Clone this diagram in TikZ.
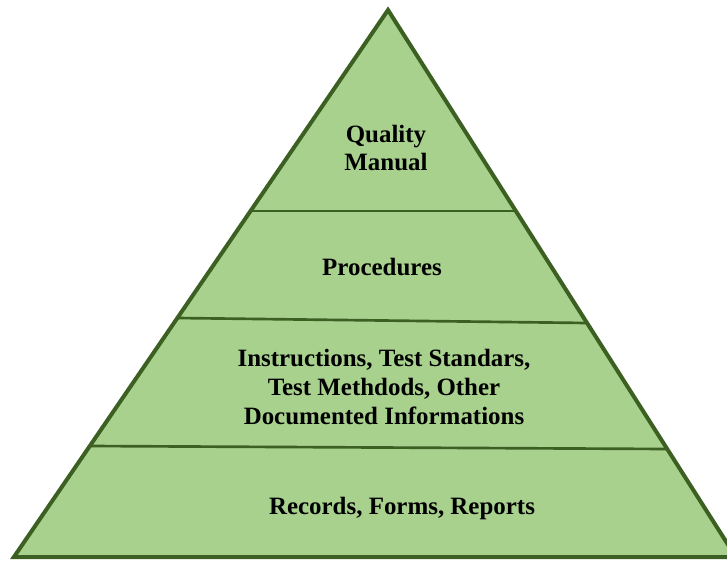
\documentclass[tikz,border=0pt]{standalone}
\usepackage{fontspec}
\setmainfont{Liberation Serif}
\definecolor{layerfill}{HTML}{A9D18E}
\definecolor{layerline}{HTML}{3C5F22}
\begin{document}
\begin{tikzpicture}[x=0.75pt,y=-0.75pt,
  outline/.style={draw=layerline,line width=3pt,line join=miter},
  divider/.style={draw=layerline,line width=2pt},
  lbl/.style={font=\fontsize{18.7}{21.7}\selectfont\bfseries,align=center,text=black,inner sep=0pt}]
\useasboundingbox (0,0) rectangle (727,560);
\clip (0,0) rectangle (727,560);
\coordinate (apex) at (388,10);
\coordinate (bl) at (13.9,557);
\coordinate (br) at (735.9,557);
\coordinate (d1l) at (251,211);
\coordinate (d1r) at (515.8,211);
\coordinate (d2l) at (177.3,318);
\coordinate (d2r) at (587,323);
\coordinate (d3l) at (89.8,446);
\coordinate (d3r) at (667,449);
\fill[layerfill] (apex) -- (br) -- (bl) -- cycle;
\draw[divider] (d1l) -- (d1r);
\draw[divider] (d2l) -- (d2r);
\draw[divider] (d3l) -- (d3r);
\draw[outline] (apex) -- (br) -- (bl) -- cycle;
\node[lbl] (qm) at (386,148) {Quality\\Manual};
\node[lbl] (proc) at (382,267) {Procedures};
\node[lbl] (instr) at (384,387) {Instructions, Test Standars,\\Test Methdods, Other\\Documented Informations};
\node[lbl] (rec) at (402,508) {Records, Forms, Reports};
\end{tikzpicture}
\end{document}
